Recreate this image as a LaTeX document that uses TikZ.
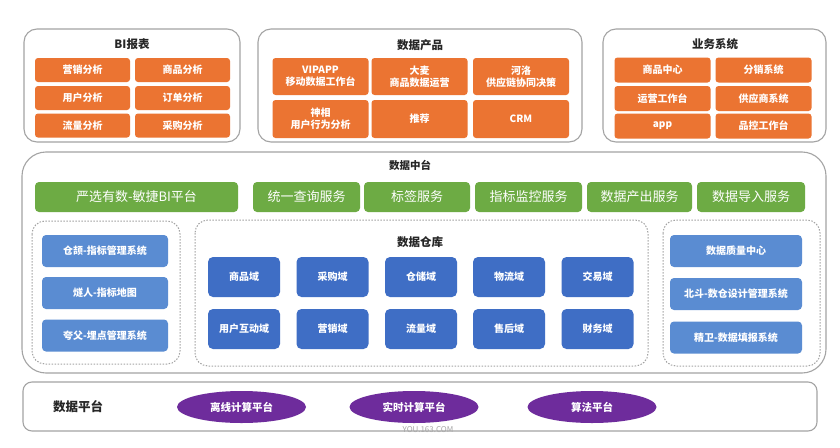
\documentclass[tikz,border=0pt]{standalone}
\usepackage{fontspec}
\setmainfont{Noto Sans CJK SC}
\usetikzlibrary{shapes.geometric}
\definecolor{cOrange}{HTML}{EB7432}
\definecolor{cGreen}{HTML}{6DAB44}
\definecolor{cBlue}{HTML}{3F6EC5}
\definecolor{cLblue}{HTML}{5A8CD2}
\definecolor{cPurple}{HTML}{6E2C9C}
\definecolor{cBorder}{HTML}{A4A4A4}
\tikzset{
  outer/.style={draw=cBorder, line width=1.1pt, rounded corners=13pt, fill=white},
  dashbox/.style={draw=cBorder, line width=1pt, dash pattern=on 1.5pt off 1.5pt, rounded corners=13pt},
  title/.style={font=\bfseries\fontsize{11.5}{12}\selectfont, text=black!85},
  ocell/.style={fill=cOrange, rounded corners=3pt, text=white, font=\bfseries\fontsize{10}{12}\selectfont, align=center, inner sep=0pt},
  gcell/.style={fill=cGreen, rounded corners=4pt, text=white, font=\fontsize{13}{14}\selectfont, inner sep=0pt, minimum height=30pt},
  bcell/.style={fill=cBlue, rounded corners=5pt, text=white, font=\bfseries\fontsize{10}{11}\selectfont, inner sep=0pt, minimum width=72pt, minimum height=40pt},
  lcell/.style={fill=cLblue, rounded corners=4pt, text=white, font=\bfseries\fontsize{10}{11}\selectfont, inner sep=0pt, minimum height=32pt},
  pell/.style={ellipse, fill=cPurple, text=white, font=\bfseries\fontsize{10.5}{11}\selectfont, inner sep=0pt, minimum width=129pt, minimum height=32pt},
}
\begin{document}
\begin{tikzpicture}[x=1pt,y=-1pt]
\useasboundingbox (0,0) rectangle (840,447);
\fill[white] (0,0) rectangle (840,447);

% ---------- BI报表 ----------
\draw[outer] (24,29) rectangle (240,142);
\node[title] (biT) at (132,44) {BI报表};
\begin{scope}[every node/.style={ocell, minimum width=95pt, minimum height=24pt}]
\node (bi1) at (82.5,70) {营销分析};
\node (bi2) at (182.5,70) {商品分析};
\node (bi3) at (82.5,98) {用户分析};
\node (bi4) at (182.5,98) {订单分析};
\node (bi5) at (82.5,125.5) {流量分析};
\node (bi6) at (182.5,125.5) {采购分析};
\end{scope}

% ---------- 数据产品 ----------
\draw[outer] (258,29) rectangle (582,142);
\node[title] (dpT) at (420,45) {数据产品};
\begin{scope}[every node/.style={ocell, minimum width=96pt}]
\node[minimum height=37pt] (dp1) at (320.5,76.5) {VIPAPP\\移动数据工作台};
\node[minimum height=37pt] (dp2) at (419.5,76.5) {大麦\\商品数据运营};
\node[minimum height=37pt] (dp3) at (521,76.5) {河洛\\供应链协同决策};
\node[minimum height=38pt] (dp4) at (320.5,119) {神相\\用户行为分析};
\node[minimum height=38pt] (dp5) at (419.5,119) {推荐};
\node[minimum height=38pt] (dp6) at (521,119) {CRM};
\end{scope}

% ---------- 业务系统 ----------
\draw[outer] (603,29) rectangle (826,142);
\node[title] (ywT) at (715,44) {业务系统};
\begin{scope}[every node/.style={ocell, minimum width=96pt, minimum height=25pt}]
\node (yw1) at (662.5,70) {商品中心};
\node (yw2) at (763.5,70) {分销系统};
\node (yw3) at (662.5,98.5) {运营工作台};
\node (yw4) at (763.5,98.5) {供应商系统};
\node (yw5) at (662.5,126) {app};
\node (yw6) at (763.5,126) {品控工作台};
\end{scope}

% ---------- 数据中台 ----------
\draw[outer, rounded corners=24pt] (22,152) rectangle (826,373);
\node[font=\bfseries\fontsize{10.5}{11}\selectfont, text=black!85] (zt) at (410,165) {数据中台};
\node[gcell, minimum width=203pt] (g1) at (136.5,197) {严选有数-敏捷BI平台};
\node[gcell, minimum width=107pt] (g2) at (306.5,197) {统一查询服务};
\node[gcell, minimum width=106pt] (g3) at (417,197) {标签服务};
\node[gcell, minimum width=107pt] (g4) at (528.5,197) {指标监控服务};
\node[gcell, minimum width=105pt] (g5) at (639.5,197) {数据产出服务};
\node[gcell, minimum width=108pt] (g6) at (751,197) {数据导入服务};

% left dashed group
\draw[dashbox] (32,221) rectangle (180,364);
\node[lcell, minimum width=126pt] (l1) at (105,251) {仓颉-指标管理系统};
\node[lcell, minimum width=126pt] (l2) at (105,293) {燧人-指标地图};
\node[lcell, minimum width=126pt] (l3) at (105,335.5) {夸父-埋点管理系统};

% 数据仓库
\draw[dashbox] (195,220) rectangle (648,366);
\node[title] (dwT) at (420,242) {数据仓库};
\node[bcell] (w1) at (244,277) {商品域};
\node[bcell] (w2) at (332.5,277) {采购域};
\node[bcell] (w3) at (421,277) {仓储域};
\node[bcell] (w4) at (509,277) {物流域};
\node[bcell] (w5) at (597.5,277) {交易域};
\node[bcell] (w6) at (244,329) {用户互动域};
\node[bcell] (w7) at (332.5,329) {营销域};
\node[bcell] (w8) at (421,329) {流量域};
\node[bcell] (w9) at (509,329) {售后域};
\node[bcell] (w10) at (597.5,329) {财务域};

% right dashed group
\draw[dashbox] (663,220) rectangle (820,366);
\node[lcell, minimum width=132pt] (r1) at (736,251) {数据质量中心};
\node[lcell, minimum width=132pt] (r2) at (736,294) {北斗-数仓设计管理系统};
\node[lcell, minimum width=132pt] (r3) at (736,337.5) {精卫-数据填报系统};

% ---------- 数据平台 ----------
\draw[outer, rounded corners=9pt] (23,382) rectangle (817,431);
\node[font=\bfseries\fontsize{12.5}{13}\selectfont, text=black!85] (ptT) at (78,407) {数据平台};
\node[pell] (p1) at (241.5,407) {离线计算平台};
\node[pell] (p2) at (414,407) {实时计算平台};
\node[pell] (p3) at (592,407) {算法平台};
\node[text=black!35, font=\fontsize{8}{9}\selectfont] (wm) at (428,430) {YOU.163.COM};
\end{tikzpicture}
\end{document}
